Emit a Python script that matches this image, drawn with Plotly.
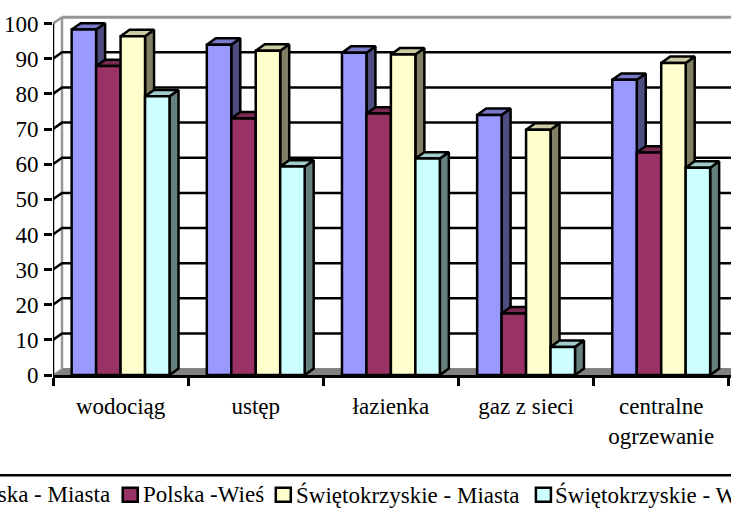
import plotly.graph_objects as go

categories = ["wodociąg", "ustęp", "łazienka", "gaz z sieci", "centralne<br>ogrzewanie"]
series_names = ["Polska - Miasta", "Polska -Wieś", "Świętokrzyskie - Miasta", "Świętokrzyskie - Wieś"]
polska_miasta = [98.3, 94, 91.7, 74, 84]
polska_wies = [87.9, 73, 74.4, 17.5, 63.3]
swk_miasta = [96.4, 92.3, 91.2, 69.8, 88.8]
swk_wies = [79.3, 59.3, 61.6, 8, 59]
y_ticks = list(range(0, 101, 10))

series_values = [polska_miasta, polska_wies, swk_miasta, swk_wies]
front = ["#9999FF", "#993366", "#FFFFCC", "#CCFFFF"]
top = ["#7A7ACC", "#7A2952", "#CCCCA3", "#A3CCCC"]
side = ["#4D4D80", "#4D1A33", "#808066", "#668080"]

W, H = 731, 510
L, B, T = 53.3, 134.7, 13.4
PX_X, PX_Y = 135.1, 3.513
X0 = -0.5
X1 = X0 + (W - L) / PX_X
Y1 = (H - B - T) / PX_Y
DX, DY = 9 / PX_X, 6.4 / PX_Y
GROUP = 0.724
BW = GROUP / 4
FONT = "Liberation Serif"
FS = 23
LW = 2.5


def poly(xs, ys, fill, lw=LW, color="black"):
    return go.Scatter(x=xs + xs[:1], y=ys + ys[:1], mode="lines", fill="toself", fillcolor=fill,
                      line=dict(color=color, width=lw), hoverinfo="skip", showlegend=False,
                      cliponaxis=False, xaxis="x", yaxis="y")


def seg(xs, ys, color="black", lw=LW):
    return go.Scatter(x=xs, y=ys, mode="lines", line=dict(color=color, width=lw), hoverinfo="skip",
                      showlegend=False, cliponaxis=False, xaxis="x", yaxis="y")


fig = go.Figure()

# back walls and floor
fig.add_trace(poly([X0, X0 + DX, X1, X1], [0, DY, DY, 0], "#808080", 1, "#808080"))
fig.add_trace(seg([X0 + DX, X0 + DX], [DY, 100 + DY], "#969696", 2.5))
fig.add_trace(seg([X0 + DX, X1], [100 + DY, 100 + DY], "#969696", 3))
fig.add_trace(seg([X0, X0 + DX], [100, 100 + DY], "#969696", 2.5))
for v in y_ticks[1:-1]:
    fig.add_trace(seg([X0, X0 + DX, X1], [v, v + DY, v + DY]))
fig.add_trace(seg([X0, X0 + DX], [0, DY], "#A0A0A0", 1.5))

# 3D top and side faces, computed from the values
for c in range(len(categories)):
    for s, vals in enumerate(series_values):
        v = vals[c]
        x0 = c - GROUP / 2 + s * BW
        x1 = x0 + BW
        fig.add_trace(poly([x1, x1 + DX, x1 + DX, x1], [0, DY, v + DY, v], side[s]))
        fig.add_trace(poly([x0, x1, x1 + DX, x0 + DX], [v, v, v + DY, v + DY], top[s]))

fig.add_trace(seg([X0, X0], [0, 100]))

# front faces
for s, vals in enumerate(series_values):
    fig.add_trace(go.Bar(x=categories, y=vals, name=series_names[s], marker=dict(color=front[s], line=dict(color="black", width=LW)),
                         xaxis="x2", yaxis="y2", showlegend=False, cliponaxis=False))


def px(p):
    return (p - L) / (W - L)


def py(p):
    return (H - B - p) / (H - B - T)


shapes = [dict(type="line", xref="paper", yref="paper", x0=px(-5), x1=px(W + 5), y0=py(475.5), y1=py(475.5),
               line=dict(color="black", width=2.5))]
swatch_x = [-48, 123, 276, 536]
label_x = [-35, 141, 294, 553]
annotations = []
for s, name in enumerate(series_names):
    shapes.append(dict(type="rect", xref="paper", yref="paper", x0=px(swatch_x[s]), x1=px(swatch_x[s] + 15),
                       y0=py(502), y1=py(488), fillcolor=front[s], line=dict(color="black", width=2.5)))
    annotations.append(dict(text=name, xref="paper", yref="paper", x=px(label_x[s]), y=py(495), xanchor="left",
                            yanchor="middle", showarrow=False, font=dict(family=FONT, size=FS, color="black")))

fig.update_layout(
    width=W, height=H, autosize=False,
    margin=dict(l=L, r=0, t=T, b=B, pad=0),
    paper_bgcolor="white", plot_bgcolor="white",
    barmode="group", bargap=1 - GROUP, bargroupgap=0,
    font=dict(family=FONT, size=FS, color="black"),
    shapes=shapes, annotations=annotations, showlegend=False,
    xaxis=dict(range=[X0, X1], visible=False, fixedrange=True),
    yaxis=dict(range=[0, Y1], tickvals=y_ticks, ticks="outside", ticklen=8, tickwidth=2.5, tickcolor="black",
               showgrid=False, zeroline=False, showline=False, ticklabelstandoff=1,
               tickfont=dict(family=FONT, size=FS, color="black"), fixedrange=True),
    xaxis2=dict(overlaying="x", anchor="y2", type="category", categoryorder="array", categoryarray=categories,
                range=[X0, X1], tickson="boundaries", ticks="outside", ticklen=8, tickwidth=2.5, tickcolor="black",
                showline=True, linecolor="black", linewidth=3, showgrid=False, zeroline=False,
                ticklabelstandoff=8, tickangle=0, tickfont=dict(family=FONT, size=FS, color="black"), fixedrange=True),
    yaxis2=dict(overlaying="y", range=[0, Y1], visible=False, fixedrange=True),
)

fig.write_html("out.html", config=dict(displayModeBar=False),
               post_script="document.body.style.margin='0';document.documentElement.style.overflow='hidden';")
